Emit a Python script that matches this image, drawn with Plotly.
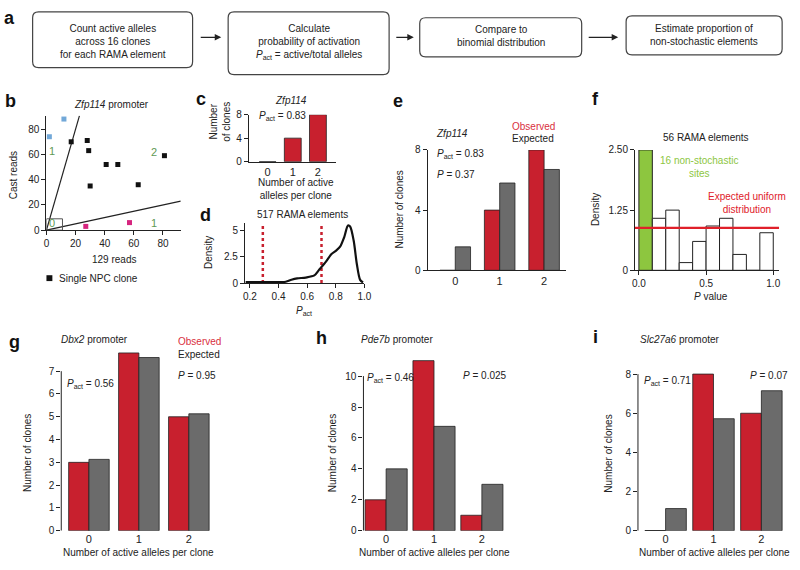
import plotly.graph_objects as go

# ---------------- data ----------------
# b: Zfp114 promoter reads per clone
b_blue_x = [2, 12]
b_blue_y = [74, 88]
b_black_x = [17, 28, 29, 30, 41, 49, 63, 81]
b_black_y = [70, 71, 63, 35, 52, 52, 36, 59]
b_pink_x = [27, 57]
b_pink_y = [3, 6]
b_slopes = [4.0, 0.25]          # allele-call boundaries (cast/129 ratio)
b_ticks = [0, 20, 40, 60, 80]
b_zone_labels = ["1", "2", "1", "0"]
b_zone_x = [3.8, 73.8, 73.8, 3.8]
b_zone_y = [62.5, 62, 6, 5.4]

alleles = [0, 1, 2]

# c: Zfp114 observed
c_obs = [0, 4, 8]

# d: density of P_act over 517 RAMA elements
d_pact = [0.17, 0.25, 0.35, 0.45, 0.49, 0.53, 0.59, 0.65, 0.68, 0.73,
          0.77, 0.80, 0.83, 0.86, 0.885, 0.90, 0.925, 0.947, 0.97, 0.99]
d_density = [0.08, 0.08, 0.08, 0.12, 0.31, 0.44, 0.52, 0.72, 1.2, 2.0,
             2.75, 3.05, 3.45, 4.4, 5.45, 5.35, 4.0, 1.8, 0.3, 0.05]
d_cutoffs = [0.29, 0.70]
d_ticks = [0.2, 0.4, 0.6, 0.8, 1.0]

# e: Zfp114 observed vs expected
e_obs = [0, 4, 8]
e_exp = [1.56, 5.8, 6.7]

# f: P value histogram of 56 RAMA elements
f_bin_left = [0.0, 0.1, 0.2, 0.3, 0.4, 0.5, 0.6, 0.7, 0.8, 0.9]
f_density = [2.5, 1.08, 1.25, 0.16, 0.6, 0.92, 1.08, 0.33, 0.0, 0.78]
f_uniform = 0.88

# g, h, i: observed vs expected
g_obs = [3, 7.8, 5]
g_exp = [3.13, 7.6, 5.13]
h_obs = [2, 11, 1]
h_exp = [4, 6.75, 3]
i_obs = [0, 8, 6]
i_exp = [1.13, 5.72, 7.15]

# ---------------- style ----------------
W, H = 800, 570
FONT = "Liberation Sans, Arial, sans-serif"
TXT = "#222222"
RED = "#c8202e"
RED_TXT = "#d9303e"
GREY = "#6b6b6b"
GREEN = "#8dc63f"
ZONE_GREEN = "#5f9a55"


def px(x):
    return x / W


def py(y):
    return 1 - y / H


fig = go.Figure()
annotations = []
shapes = []


def txt(x, y, s, size=10, color=TXT, xa="center", ya="middle", angle=0,
        bold=False, xref="paper", yref="paper"):
    if bold:
        s = "<b>" + s + "</b>"
    annotations.append(dict(
        x=px(x) if xref == "paper" else x, y=py(y) if yref == "paper" else y,
        xref=xref, yref=yref, text=s, showarrow=False, xanchor=xa,
        yanchor=ya, textangle=angle, font=dict(size=size, color=color,
                                                family=FONT)))


def rounded_box(x0, y0, x1, y1, r=6):
    p = (f"M {px(x0 + r)},{py(y0)} L {px(x1 - r)},{py(y0)} "
         f"Q {px(x1)},{py(y0)} {px(x1)},{py(y0 + r)} "
         f"L {px(x1)},{py(y1 - r)} Q {px(x1)},{py(y1)} {px(x1 - r)},{py(y1)} "
         f"L {px(x0 + r)},{py(y1)} Q {px(x0)},{py(y1)} {px(x0)},{py(y1 - r)} "
         f"L {px(x0)},{py(y0 + r)} Q {px(x0)},{py(y0)} {px(x0 + r)},{py(y0)} Z")
    shapes.append(dict(type="path", path=p, xref="paper", yref="paper",
                       line=dict(color="#444444", width=1.2)))


# ---------------- axes ----------------
# name: (x pixel domain, y pixel domain bottom/top, x range, y range)
panels = [
    ("b", (44, 180), (229, 112), [0, 92.2], [0, 90.7]),
    ("c", (249, 337), (159, 111), [-0.745, 2.71], [0, 8]),
    ("d", (245, 366), (283, 222), [0.165, 1.0], [0, 5.65]),
    ("e", (430, 570), (270, 147), [-0.622, 2.49], [0, 8]),
    ("f", (640, 786), (270, 147), [-0.029, 1.044], [0, 2.5]),
    ("g", (59, 215), (536, 350), [-0.554, 2.53], [0, 7.99]),
    ("h", (365, 515), (536, 355), [-0.474, 2.62], [0, 11.46]),
    ("i", (643, 795), (536, 370), [-0.577, 2.557], [0, 8.3]),
]
ref = {}
layout_axes = {}
for n, (name, xd, yd, xr, yr) in enumerate(panels, start=1):
    sx = "" if n == 1 else str(n)
    ref[name] = ("x" + sx, "y" + sx)
    base = dict(showgrid=False, zeroline=False, linecolor=TXT, linewidth=1,
                ticks="outside", ticklen=4, tickwidth=1, tickcolor=TXT,
                tickfont=dict(size=10, color=TXT, family=FONT),
                showline=True, fixedrange=True)
    layout_axes["xaxis" + sx] = dict(base, domain=[px(xd[0]), px(xd[1])],
                                     range=xr, anchor="y" + sx)
    layout_axes["yaxis" + sx] = dict(base, domain=[py(yd[0]), py(yd[1])],
                                     range=yr, anchor="x" + sx)

# per-panel tick settings
layout_axes["xaxis"].update(tickvals=b_ticks)
layout_axes["yaxis"].update(tickvals=b_ticks)
for sx in ["2", "4", "6", "7", "8"]:
    layout_axes["xaxis" + sx].update(tickvals=alleles, ticks="",
                                     tickfont=dict(size=11, color=TXT,
                                                   family=FONT))
layout_axes["yaxis2"].update(tickvals=[0, 4, 8])
layout_axes["xaxis3"].update(tickvals=d_ticks,
                             ticktext=[f"{t:.1f}" for t in d_ticks])
layout_axes["yaxis3"].update(tickvals=[0, 2.5, 5], ticktext=["0", "2.5", "5"])
layout_axes["yaxis4"].update(tickvals=[0, 4, 8])
layout_axes["xaxis5"].update(tickvals=[0, 0.5, 1],
                             ticktext=["0.0", "0.5", "1.0"])
layout_axes["yaxis5"].update(tickvals=[0, 1.25, 2.5],
                             ticktext=["0", "1.25", "2.50"])
for sx in ["6", "7", "8"]:
    layout_axes["xaxis" + sx].update(showline=False)
    layout_axes["yaxis" + sx].update(showline=False)
layout_axes["yaxis6"].update(tickvals=list(range(0, 8)))
layout_axes["yaxis7"].update(tickvals=[0, 2, 4, 6, 8, 10])
layout_axes["yaxis8"].update(tickvals=[0, 2, 4, 6, 8])

# y spines of g/h/i span only the tick range
for name, top in [("g", 7), ("h", 10), ("i", 8)]:
    xa, ya = ref[name]
    shapes.append(dict(type="line", xref=xa + " domain", yref=ya,
                       x0=0, x1=0, y0=0, y1=top,
                       line=dict(color=TXT, width=1)))

# ---------------- panel b ----------------
xa, ya = ref["b"]
bx_max = panels[0][3][1]
by_max = panels[0][4][1]
steep, shallow = b_slopes
fig.add_trace(go.Scatter(x=[0, by_max / steep], y=[0, by_max], mode="lines",
                         line=dict(color=TXT, width=1.2), xaxis=xa, yaxis=ya,
                         cliponaxis=False))
fig.add_trace(go.Scatter(x=[0, bx_max], y=[0, bx_max * shallow], mode="lines",
                         line=dict(color=TXT, width=1.2), xaxis=xa, yaxis=ya,
                         cliponaxis=False))
for xs, ys, col in [(b_blue_x, b_blue_y, "#72a8d8"),
                    (b_black_x, b_black_y, "#111111"),
                    (b_pink_x, b_pink_y, "#d6257f")]:
    fig.add_trace(go.Scatter(x=xs, y=ys, mode="markers", xaxis=xa, yaxis=ya,
                             marker=dict(symbol="square", size=5, color=col),
                             cliponaxis=False))
shapes.append(dict(type="rect", xref=xa, yref=ya, x0=0, y0=0, x1=11, y1=9,
                   line=dict(color="#555555", width=1)))
for lab, zx, zy in zip(b_zone_labels, b_zone_x, b_zone_y):
    txt(zx, zy, lab, size=11, color=ZONE_GREEN, xref=xa, yref=ya)

# ---------------- panel c ----------------
xa, ya = ref["c"]
fig.add_trace(go.Bar(x=alleles, y=c_obs, width=0.67, offset=-0.335,
                     marker=dict(color=RED, line=dict(color=TXT, width=0.8)),
                     xaxis=xa, yaxis=ya))

# ---------------- panel d ----------------
xa, ya = ref["d"]
for cut in d_cutoffs:
    fig.add_trace(go.Scatter(x=[cut, cut], y=[0, panels[2][4][1]],
                             mode="lines", xaxis=xa, yaxis=ya,
                             line=dict(color=RED, width=2.5, dash="dot")))
fig.add_trace(go.Scatter(x=d_pact, y=d_density, mode="lines", xaxis=xa,
                         yaxis=ya, line=dict(color="#111111", width=2.2,
                                             shape="spline", smoothing=0.8),
                         cliponaxis=False))


# ---------------- grouped panels ----------------
def obs_exp(name, obs, exp, w):
    xa, ya = ref[name]
    fig.add_trace(go.Bar(x=alleles, y=obs, width=w, offset=-w,
                         marker=dict(color=RED,
                                     line=dict(color=TXT, width=0.8)),
                         xaxis=xa, yaxis=ya))
    fig.add_trace(go.Bar(x=alleles, y=exp, width=w, offset=0,
                         marker=dict(color=GREY,
                                     line=dict(color=TXT, width=0.8)),
                         xaxis=xa, yaxis=ya))


obs_exp("e", e_obs, e_exp, 0.344)
obs_exp("g", g_obs, g_exp, 0.406)
obs_exp("h", h_obs, h_exp, 0.44)
obs_exp("i", i_obs, i_exp, 0.433)
# zero-height observed bars still show their outline
xa, ya = ref["i"]
for a, v in zip(alleles, i_obs):
    if v == 0:
        fig.add_trace(go.Scatter(x=[a - 0.433, a], y=[0, 0], mode="lines",
                                 line=dict(color=TXT, width=1.2),
                                 xaxis=xa, yaxis=ya, cliponaxis=False))

# ---------------- panel f ----------------
xa, ya = ref["f"]
fig.add_trace(go.Bar(x=f_bin_left, y=f_density, width=0.1, offset=0,
                     marker=dict(color=[GREEN] + ["white"] * 9,
                                 line=dict(color=TXT, width=1)),
                     xaxis=xa, yaxis=ya))
fig.add_trace(go.Scatter(x=panels[4][3], y=[f_uniform, f_uniform],
                         mode="lines", line=dict(color="#e0202a", width=2.2),
                         xaxis=xa, yaxis=ya, cliponaxis=False))

# ---------------- panel a ----------------
rounded_box(30, 6, 192, 63)
rounded_box(228, 6, 391, 70)
rounded_box(422, 12, 586, 52)
rounded_box(631, 10, 789, 50)
txt(111, 36, "Count active alleles<br>across 16 clones<br>for each RAMA element")
txt(310, 37, "Calculate<br>probability of activation<br>"
             "<i>P</i><sub>act</sub> = active/total alleles")
txt(504, 31, "Compare to<br>binomial distribution")
txt(710, 30, "Estimate proportion of<br>non-stochastic elements")
for x0, x1 in [(199, 221), (397, 416), (592, 623)]:
    annotations.append(dict(x=px(x1), y=py(32), ax=-(x1 - x0), ay=0,
                            xref="paper", yref="paper", axref="pixel",
                            ayref="pixel", text="", showarrow=True,
                            arrowhead=2, arrowsize=1, arrowwidth=1.3,
                            arrowcolor=TXT))

# ---------------- panel texts ----------------
for lab, x, y in [("a", 7, 12), ("b", 8, 97), ("c", 200, 95), ("d", 205, 213),
                  ("e", 400, 97), ("f", 600, 95), ("g", 12, 343),
                  ("h", 323, 339), ("i", 600, 338)]:
    txt(x, y, lab, size=18, bold=True, color="#111111")

txt(110, 101, "<i>Zfp114</i> promoter")
txt(10, 173, "Cast reads", angle=-90)
txt(112, 259, "129 reads")
shapes.append(dict(type="rect", xref="paper", yref="paper",
                   x0=px(44), x1=px(50), y0=py(281), y1=py(275),
                   fillcolor="#111111", line=dict(width=0)))
txt(55, 278, "Single NPC clone", xa="left")

txt(292, 97, "<i>Zfp114</i>")
txt(257, 112, "<i>P</i><sub>act</sub> = 0.83", xa="left")
txt(219, 118, "Number<br>of clones", angle=-90)
txt(297, 187, "Number of active<br>alleles per clone")

txt(303, 213, "517 RAMA elements")
txt(208, 252, "Density", angle=-90)
txt(305, 312, "<i>P</i><sub>act</sub>")

txt(455, 130, "<i>Zfp114</i>")
txt(437, 151, "<i>P</i><sub>act</sub> = 0.83", xa="left")
txt(437, 172, "<i>P</i> = 0.37", xa="left")
txt(513, 123, "Observed", color=RED_TXT, xa="left")
txt(513, 135, "Expected", xa="left")
txt(402, 208, "Number of clones", angle=-90)

txt(712, 134, "56 RAMA elements")
txt(663, 164, "16 non-stochastic<br>sites", color=GREEN, xa="left")
txt(712, 201, "Expected uniform<br>distribution", color="#e0202a", xa="left")
txt(600, 208, "Density", angle=-90)
txt(717, 297, "<i>P</i> value")

txt(57, 341, "<i>Dbx2</i> promoter", xa="left")
txt(175, 343, "Observed", color=RED_TXT, xa="left")
txt(175, 356, "Expected", xa="left")
txt(175, 377, "<i>P</i> = 0.95", xa="left")
txt(63, 386, "<i>P</i><sub>act</sub> = 0.56", xa="left")
txt(25, 457, "Number of clones", angle=-90)
txt(137, 558, "Number of active alleles per clone")

txt(361, 341, "<i>Pde7b</i> promoter", xa="left")
txt(367, 380, "<i>P</i><sub>act</sub> = 0.46", xa="left")
txt(512, 377, "<i>P</i> = 0.025", xa="right")
txt(334, 457, "Number of clones", angle=-90)
txt(437, 558, "Number of active alleles per clone")

txt(643, 341, "<i>Slc27a6</i> promoter", xa="left")
txt(647, 383, "<i>P</i><sub>act</sub> = 0.71", xa="left")
txt(754, 377, "<i>P</i> = 0.07", xa="left")
txt(613, 457, "Number of clones", angle=-90)
txt(720, 558, "Number of active alleles per clone")

fig.update_layout(
    width=W, height=H, margin=dict(l=0, r=0, t=0, b=0),
    paper_bgcolor="white", plot_bgcolor="white", showlegend=False,
    barmode="overlay", font=dict(family=FONT, size=10, color=TXT),
    annotations=annotations, shapes=shapes, **layout_axes)

# the page's default body margin would push the 800x570 figure off-window
fig.write_html("out.html", config={"displayModeBar": False},
               post_script="document.body.style.margin='0';")
